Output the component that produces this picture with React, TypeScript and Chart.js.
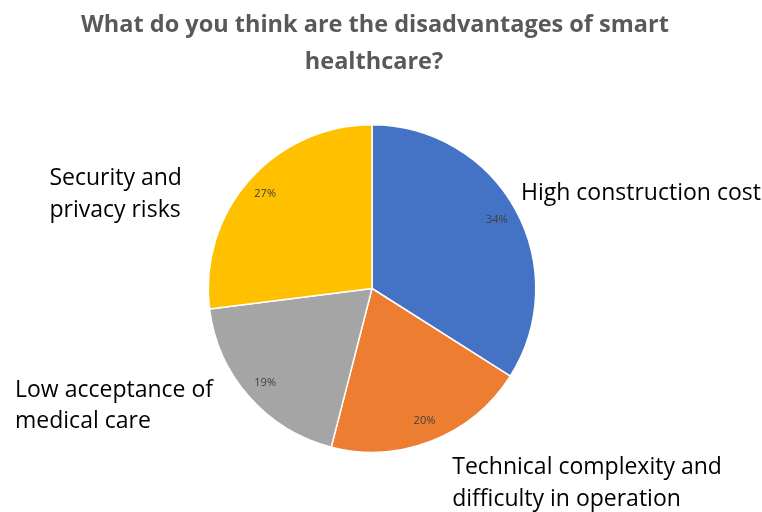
import React, { useEffect, useRef } from "react";
import { Chart, registerables } from "chart.js";

Chart.register(...registerables);

const titleLines = ["What do you think are the disadvantages of smart", "healthcare?"];
const categories = [
  "High construction cost",
  "Technical complexity and difficulty in operation",
  "Low acceptance of medical care",
  "Security and privacy risks",
];
const labelLines = [
  ["High construction cost"],
  ["Technical complexity and", "difficulty in operation"],
  ["Low acceptance of", "medical care"],
  ["Security and", "privacy risks"],
];
const values = [34, 20, 19, 27];
const colors = ["#4472C4", "#ED7D31", "#A5A5A5", "#FFC000"];
// label anchor offsets (relative to pie centre, in units of radius)
const labelAnchors = [
  [0.91, -0.58],
  [0.49, 1.095],
  [-2.18, 0.62],
  [-1.97, -0.67],
];

const labelPlugin = {
  id: "customLabels",
  afterDraw(chart: any) {
    const ctx = chart.ctx;
    const meta = chart.getDatasetMeta(0);
    const w = chart.width;
    ctx.save();
    // title
    ctx.fillStyle = "#595959";
    ctx.font = "bold 23.5px 'Open Sans'";
    ctx.textAlign = "center";
    ctx.textBaseline = "middle";
    ctx.fillText(titleLines[0], w / 2 - 6, 25);
    ctx.fillText(titleLines[1], w / 2 - 7, 62);

    meta.data.forEach((arc: any, i: number) => {
      const p = arc.getProps(["x", "y", "startAngle", "endAngle", "outerRadius"], true);
      const mid = (p.startAngle + p.endAngle) / 2;
      const r = p.outerRadius;
      // percentage
      const pct = Math.round((values[i] / values.reduce((a, b) => a + b, 0)) * 100) + "%";
      ctx.fillStyle = "#404040";
      ctx.font = "11px 'Open Sans'";
      ctx.textAlign = "center";
      ctx.textBaseline = "middle";
      ctx.fillText(pct, p.x + Math.cos(mid) * r * 0.87, p.y + Math.sin(mid) * r * 0.87);
      // category label
      ctx.fillStyle = "#000000";
      ctx.font = "23px 'Open Sans'";
      ctx.textAlign = "left";
      const ax = p.x + labelAnchors[i][0] * r;
      const ay = p.y + labelAnchors[i][1] * r;
      labelLines[i].forEach((line, j) => {
        ctx.fillText(line, ax, ay + j * 31.5);
      });
    });
    ctx.restore();
  },
};

export default function App() {
  const ref = useRef<HTMLCanvasElement>(null);
  useEffect(() => {
    const chart = new Chart(ref.current!, {
      type: "pie",
      data: {
        labels: categories,
        datasets: [
          {
            data: values,
            backgroundColor: colors,
            borderColor: "#ffffff",
            borderWidth: 1.5,
          },
        ],
      },
      options: {
        animation: false,
        responsive: false,
        maintainAspectRatio: false,
        layout: { padding: { top: 124, bottom: 59, left: 0, right: 18 } },
        plugins: {
          legend: { display: false },
          title: { display: false },
          tooltip: { enabled: false },
        },
      },
      plugins: [labelPlugin],
    });
    return () => chart.destroy();
  }, []);
  return (
    <div style={{ position: "fixed", left: 0, top: 0, width: 762, height: 512, background: "#fff" }}>
      <canvas ref={ref} width={762} height={512} style={{ width: 762, height: 512 }} />
    </div>
  );
}
